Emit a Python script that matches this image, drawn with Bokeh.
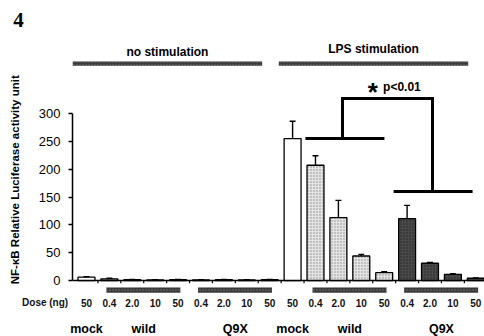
import math
from bokeh.plotting import figure
from bokeh.models import Range1d, FixedTicker, LinearAxis, ColumnDataSource
from bokeh.core.properties import value
from bokeh.embed import file_html
from bokeh.resources import INLINE

# ---------------- data ----------------
groups = ["mock", "wild", "wild", "wild", "wild", "Q9X", "Q9X", "Q9X", "Q9X"]
doses = ["50", "0.4", "2.0", "10", "50", "0.4", "2.0", "10", "50"]
conditions = ["no stimulation", "LPS stimulation"]
nostim_values = [6, 3, 1.5, 1, 1.5, 1, 1.5, 1, 1.5]
nostim_err = [1, 1, 0.5, 0.5, 0.5, 0.5, 0.5, 0.5, 0.5]
lps_values = [255, 207, 113, 44, 14, 111, 31, 11, 4]
lps_err = [31, 17, 31, 3, 2, 24, 1.5, 1, 0.5]
y_ticks = [0, 50, 100, 150, 200, 250, 300]
y_title = "NF-\u03baB Relative Luciferase activity unit"
p_text = "p<0.01"

FONT = "Liberation Sans"
n = len(doses)
all_groups = groups + groups
all_doses = doses + doses
all_values = nostim_values + lps_values
all_err = nostim_err + lps_err
xs = list(range(2 * n))
X0 = -0.61          # position of the value axis in category units

fill_map = {"mock": "white", "wild": "#e4e4e4", "Q9X": "#4a4a4a"}
hatch_map = {"mock": "blank", "wild": "dot", "Q9X": "dot"}
hcol_map = {"mock": "black", "wild": "#8a8a8a", "Q9X": "#222222"}

src = ColumnDataSource(dict(
    x=xs, top=all_values, err=all_err,
    fill=[fill_map[g] for g in all_groups],
    hatch=[hatch_map[g] for g in all_groups],
    hcol=[hcol_map[g] for g in all_groups],
    etop=[v + e for v, e in zip(all_values, all_err)],
    cl=[x - 0.13 for x in xs], cr=[x + 0.13 for x in xs],
))

p = figure(width=484, height=336, output_backend="svg", toolbar_location=None,
           x_range=Range1d(-3.755, 17.38), y_range=Range1d(-100.6, 503.0),
           x_axis_location=None, y_axis_location=None, min_border=0)
p.outline_line_color = None
p.grid.visible = False
p.background_fill_color = "white"

# y axis
ax = LinearAxis(fixed_location=X0)
ax.ticker = FixedTicker(ticks=y_ticks)
ax.bounds = (0, 300)
ax.minor_tick_line_color = None
ax.major_tick_out = 4
ax.major_tick_in = 0
ax.axis_line_width = 1.5
ax.major_tick_line_width = 1.5
ax.major_label_text_font = FONT
ax.major_label_text_font_size = "13px"
ax.major_label_text_color = "black"
ax.major_label_standoff = 8
p.add_layout(ax, "left")

# y axis title
p.text(x=[-3.14], y=[181], text=[y_title], angle=math.pi / 2, text_font=value(FONT),
       text_font_size="11.5px", text_font_style="bold", text_align="center",
       text_baseline="middle", text_color="black")

# baseline and ticks between categories
p.segment(x0=[X0], y0=[0], x1=[2 * n - 0.4], y1=[0], line_color="black", line_width=1.5)
bx = [i + 0.5 for i in range(2 * n - 1)]
p.segment(x0=bx, y0=[0] * len(bx), x1=bx, y1=[-5] * len(bx), line_color="black", line_width=1.2)

# bars
p.vbar(x="x", top="top", width=0.74, source=src, fill_color="fill", line_color="black",
       line_width=1.3, hatch_pattern="hatch", hatch_color="hcol", hatch_scale=3, hatch_weight=1)
# error bars
p.segment(x0="x", y0="top", x1="x", y1="etop", source=src, line_color="black", line_width=1.4)
p.segment(x0="cl", y0="etop", x1="cr", y1="etop", source=src, line_color="black", line_width=1.4)

# top condition bars & labels
for k, cond in enumerate(conditions):
    i0, i1 = k * n, k * n + n - 1
    p.quad(left=[i0 - 0.6], right=[i1 - 0.33], bottom=[386], top=[393.5],
           fill_color="#3a3a3a", line_color=None, hatch_pattern="dot", hatch_color="#777777",
           hatch_scale=3)
    p.text(x=[(i0 - 0.6 + i1 - 0.33) / 2], y=[411 + 4 * k], text=[cond],
           text_font=value(FONT), text_font_size="12px", text_font_style="bold",
           text_align="center", text_baseline="middle", text_color="black")

# dose labels
p.text(x=xs, y=[-40] * len(xs), text=all_doses, text_font=value(FONT), text_font_size="10px",
       text_font_style="bold", text_align="center", text_baseline="middle", text_color="#111111")
p.text(x=[-0.8], y=[-40], text=["Dose (ng)"], text_font=value(FONT), text_font_size="10px",
       text_font_style="bold", text_align="right", text_baseline="middle", text_color="#111111")

# group labels & grey bars below axis
seen = []
for g in groups:
    if g not in seen:
        seen.append(g)
for k in range(2):
    for g in seen:
        idx = [k * n + i for i, gg in enumerate(groups) if gg == g]
        c = (idx[0] + idx[-1]) / 2
        p.text(x=[c], y=[-87], text=[g], text_font=value(FONT), text_font_size="12.5px",
               text_font_style="bold", text_align="center", text_baseline="middle",
               text_color="black")
        if len(idx) > 1:
            p.quad(left=[idx[0] - 0.13], right=[idx[-1] + 0.1], bottom=[-22], top=[-12.5],
                   fill_color="#3a3a3a", line_color=None, hatch_pattern="dot",
                   hatch_color="#777777", hatch_scale=3)

# significance bracket
p.multi_line(xs=[[9.56, 13.01], [11.18, 11.18, 15.11, 15.11], [13.41, 16.86]],
             ys=[[255, 255], [255, 327, 327, 160], [160, 160]],
             line_color="black", line_width=3, line_join="miter")
p.text(x=[12.5], y=[338], text=["*"], text_font=value(FONT), text_font_size="26px",
       text_font_style="bold", text_align="center", text_baseline="middle", text_color="black")
p.text(x=[12.95], y=[347], text=[p_text], text_font=value(FONT), text_font_size="12px",
       text_font_style="bold", text_align="left", text_baseline="middle", text_color="black")

# panel number
p.text(x=[-3.2], y=[481], text=["4"], text_font=value("Liberation Serif"), text_font_size="21px",
       text_font_style="bold", text_align="left", text_baseline="top", text_color="black")

open("out.html", "w").write(file_html(p, INLINE))
